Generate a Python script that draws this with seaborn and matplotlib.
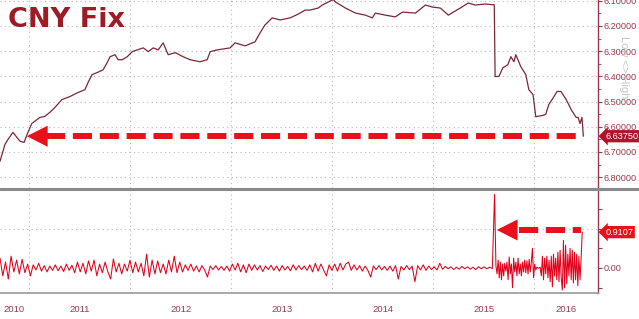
import numpy as np
import pandas as pd
import matplotlib
matplotlib.use("Agg")
import matplotlib.pyplot as plt
import matplotlib.transforms as mtrans
from matplotlib.lines import Line2D
from matplotlib.ticker import FixedLocator, NullFormatter
import seaborn as sns

# ---------------- data ----------------
fix_dates = [
    "2010-09-18", "2010-10-06", "2010-10-17", "2010-11-04", "2010-11-15", "2010-11-30",
    "2010-12-14", "2010-12-28", "2011-01-11", "2011-02-09", "2011-02-27", "2011-03-17",
    "2011-04-04", "2011-04-30", "2011-05-29", "2011-06-27", "2011-07-22", "2011-08-02",
    "2011-08-17", "2011-09-04", "2011-09-26", "2011-10-10", "2011-10-21", "2011-11-08",
    "2011-11-19", "2011-12-04", "2011-12-22", "2012-01-09", "2012-01-27", "2012-02-18",
    "2012-03-07", "2012-03-25", "2012-04-12", "2012-04-30", "2012-05-18", "2012-06-13",
    "2012-07-11", "2012-08-05", "2012-09-10", "2012-10-06", "2012-10-17", "2012-11-11",
    "2012-12-28", "2013-01-15", "2013-02-20", "2013-03-28", "2013-04-15", "2013-05-03",
    "2013-05-29", "2013-06-27", "2013-08-02", "2013-08-31", "2013-09-25", "2013-10-13",
    "2013-11-11", "2013-11-26", "2014-01-05", "2014-01-13", "2014-02-18", "2014-03-26",
    "2014-05-01", "2014-05-26", "2014-06-06", "2014-07-12", "2014-08-17", "2014-09-12",
    "2014-10-29", "2014-12-04", "2014-12-29", "2015-01-27", "2015-02-25", "2015-03-15",
    "2015-04-09", "2015-05-08", "2015-06-02", "2015-07-08", "2015-08-10", "2015-08-13",
    "2015-08-27", "2015-09-10", "2015-09-28", "2015-10-09", "2015-10-20", "2015-10-27",
    "2015-11-14", "2015-12-02", "2015-12-13", "2015-12-28", "2016-01-07", "2016-02-01",
    "2016-02-12", "2016-02-23", "2016-03-13", "2016-03-24", "2016-04-07", "2016-04-26",
    "2016-05-14", "2016-06-01", "2016-06-08", "2016-06-15", "2016-06-22", "2016-06-27",
]
fix_values = [
    6.737, 6.670, 6.650, 6.622, 6.638, 6.658,
    6.662, 6.622, 6.587, 6.563, 6.559, 6.543,
    6.524, 6.492, 6.480, 6.464, 6.453, 6.425,
    6.393, 6.385, 6.374, 6.346, 6.322, 6.314,
    6.334, 6.334, 6.322, 6.302, 6.295, 6.287,
    6.302, 6.287, 6.295, 6.267, 6.314, 6.306,
    6.322, 6.334, 6.342, 6.334, 6.302, 6.295,
    6.287, 6.267, 6.279, 6.263, 6.228, 6.196,
    6.168, 6.176, 6.168, 6.153, 6.137, 6.137,
    6.129, 6.117, 6.095, 6.105, 6.129, 6.149,
    6.157, 6.168, 6.149, 6.157, 6.164, 6.145,
    6.149, 6.117, 6.125, 6.129, 6.157, 6.145,
    6.129, 6.109, 6.117, 6.113, 6.1162, 6.401,
    6.400, 6.366, 6.354, 6.322, 6.342, 6.314,
    6.362, 6.393, 6.453, 6.472, 6.560, 6.555,
    6.551, 6.512, 6.480, 6.460, 6.460, 6.492,
    6.532, 6.563, 6.563, 6.587, 6.563, 6.6375,
]

# daily % change (lower panel)
chg_pre_start = "2010-09-18"   # 10-day steps
chg_pre = [
    0.25, -0.2, 0.15, -0.28, 0.3, -0.1, 0.2, -0.15, 0.22, -0.12,
    0.1, -0.2, 0.08, -0.05, 0.12, -0.08, 0.06, -0.1, 0.05, -0.06,
    0.08, -0.07, 0.05, -0.09, 0.1, -0.06, 0.07, -0.12, 0.15, -0.1,
    0.12, -0.15, 0.18, -0.08, 0.2, -0.2, 0.1, -0.12, 0.15, -0.1,
    -0.28, 0.23, -0.1, 0.12, -0.15, 0.1, -0.08, 0.2, -0.12, 0.15,
    -0.1, 0.12, -0.2, 0.35, -0.23, 0.2, -0.15, 0.18, -0.12, 0.1,
    -0.15, 0.2, -0.1, 0.3, -0.12, 0.15, -0.1, 0.08, -0.06, 0.1,
    -0.08, 0.05, -0.1, 0.06, -0.05, -0.23, 0.05, -0.04, 0.06, -0.05,
    0.04, -0.06, 0.05, -0.08, 0.1, -0.05, 0.12, -0.1, 0.08, -0.12,
    0.1, -0.06, 0.08, -0.05, 0.06, -0.09, 0.05, -0.04, 0.07, -0.06,
    0.05, -0.08, 0.06, -0.05, 0.04, -0.07, 0.08, -0.05, 0.06, -0.04,
    0.05, -0.06, 0.08, -0.1, 0.12, -0.08, 0.1, -0.05, -0.2, 0.08,
    -0.06, 0.1, -0.08, 0.12, -0.05, 0.1, 0.15, -0.06, 0.08, -0.05,
    0.06, -0.08, 0.05, -0.06, -0.23, 0.05, -0.04, 0.06, -0.05, 0.04,
    -0.06, 0.05, -0.08, 0.06, -0.28, 0.04, -0.05, 0.06, -0.04, 0.05,
    -0.35, 0.06, -0.05, 0.08, -0.06, 0.05, -0.04, 0.03, -0.05, 0.12,
    -0.03, 0.04, -0.02, 0.03, -0.04, 0.02, -0.03, 0.04, -0.02, 0.03,
    -0.03, 0.02, -0.04, 0.03, -0.02, 0.03, -0.02, 0.02, -0.01,
]
chg_spike_dates = ["2015-08-11", "2015-08-12", "2015-08-13"]
chg_spike = [1.86, 1.62, 1.11]
chg_post_start = "2015-08-16"  # 4-day steps
chg_post = [
    0.05, -0.15, 0.2, -0.25, 0.15, -0.3, 0.1, -0.2, 0.12, -0.08,
    0.15, -0.3, 0.28, -0.15, 0.1, -0.5, 0.25, -0.1, 0.15, -0.2,
    0.25, -0.15, 0.1, -0.2, 0.15, -0.1, 0.2, -0.12, 0.18, -0.15,
    0.22, -0.1, 0.15, 0.5, -0.25, 0.1, -0.05, 0.02, 0.0, 0.0,
    0.02, -0.2, 0.3, -0.3, 0.25, -0.15, 0.3, -0.25, 0.2, -0.35,
    0.3, -0.48, 0.35, -0.2, 0.25, -0.3, 0.4, -0.35, 0.45, -0.25,
    -0.56, 0.7, -0.5, 0.58, -0.4, 0.35, -0.2, 0.5, -0.3, 0.45,
    -0.38, 0.4, -0.3, 0.35, -0.45, 0.3, -0.3, 0.25, 0.9107,
]

fix_last = 6.6375
chg_last = 0.9107
years = [2010, 2011, 2012, 2013, 2014, 2015, 2016]
top_ticks = [6.1, 6.2, 6.3, 6.4, 6.5, 6.6, 6.7, 6.8]

# ---------------- frames ----------------
df_fix = pd.DataFrame({"date": pd.to_datetime(fix_dates), "fix": fix_values})
d_pre = pd.date_range(chg_pre_start, periods=len(chg_pre), freq="10D")
d_post = pd.date_range(chg_post_start, periods=len(chg_post), freq="4D")
df_chg = pd.DataFrame({
    "date": list(d_pre) + list(pd.to_datetime(chg_spike_dates)) + list(d_post),
    "chg": chg_pre + chg_spike + chg_post,
})

# ---------------- style ----------------
sns.set_theme(style="white")
plt.rcParams["font.family"] = ["Liberation Sans", "DejaVu Sans"]

MAROON = "#9b3a4d"
LINE_TOP = "#7a2838"
RED = "#e8101a"
GRID = "#b8b8b8"

fig = plt.figure(figsize=(6.39, 3.19), dpi=100)
H = 319.0
W = 639.0
ax1 = fig.add_axes([0, 1 - 188 / H, 598 / W, 188 / H])
ax2 = fig.add_axes([0, 1 - 293 / H, 598 / W, 103 / H])

xmin = pd.Timestamp("2010-09-18")
xmax = pd.Timestamp("2016-08-19")
year_starts = [pd.Timestamp(f"{y}-01-01") for y in years[1:]]
quarters = pd.date_range("2010-10-01", "2016-07-01", freq="QS")

# top panel
sns.lineplot(data=df_fix, x="date", y="fix", ax=ax1, color=LINE_TOP, lw=0.9)
ax1.set_xlim(xmin, xmax)
ax1.set_ylim(6.843, 6.097)
ax1.set_xlabel("")
ax1.set_ylabel("")
ax1.yaxis.tick_right()
ax1.set_yticks(top_ticks)
ax1.set_yticklabels([f"{v:.5f}" for v in top_ticks])
ax1.yaxis.set_minor_locator(FixedLocator([v + 0.05 for v in top_ticks[:-1]]))
ax1.tick_params(axis="y", which="major", direction="out", length=3, width=0.8,
                color=MAROON, labelcolor=MAROON, labelsize=6.6, pad=1)
ax1.tick_params(axis="y", which="minor", direction="out", length=2, width=0.6, color=MAROON)
ax1.set_xticks(year_starts)
ax1.set_xticklabels([])
ax1.tick_params(axis="x", length=0)
ax1.grid(True, axis="both", linestyle=(0, (1, 3)), color=GRID, lw=0.8)
for s in ["left", "top", "bottom"]:
    ax1.spines[s].set_visible(False)
ax1.spines["right"].set_color(MAROON)
ax1.spines["right"].set_linewidth(1.0)

# lower panel
sns.lineplot(data=df_chg, x="date", y="chg", ax=ax2, color="#e3001b", lw=0.75)
ax2.set_xlim(xmin, xmax)
ax2.set_ylim(-0.635, 1.98)
ax2.set_xlabel("")
ax2.set_ylabel("")
ax2.yaxis.tick_right()
ax2.set_yticks([-0.5, 0.0, 0.5, 1.0, 1.5])
ax2.set_yticklabels(["", "0.00", "", "", ""])
ax2.tick_params(axis="y", direction="out", length=3, width=0.8, color=MAROON,
                labelcolor=MAROON, labelsize=6.6, pad=1)
ax2.set_xticks(year_starts)
ax2.set_xticklabels([])
ax2.xaxis.set_minor_locator(FixedLocator(matplotlib.dates.date2num(quarters)))
ax2.xaxis.set_minor_formatter(NullFormatter())
ax2.tick_params(axis="x", which="major", direction="out", length=19, width=0.8, color="#a0a0a0")
ax2.tick_params(axis="x", which="minor", direction="out", length=3, width=0.7, color="#a0a0a0")
ax2.grid(False)
ax2.grid(True, axis="x", which="major", linestyle=(0, (1, 3)), color=GRID, lw=0.8)
ax2.axhline(1.0, linestyle=(0, (1, 3)), color=GRID, lw=0.8, zorder=0)
ax2.spines["left"].set_visible(False)
ax2.spines["top"].set_visible(False)
ax2.spines["bottom"].set_color("#9a9a9a")
ax2.spines["bottom"].set_linewidth(1.2)
ax2.spines["right"].set_color(MAROON)
ax2.spines["right"].set_linewidth(1.0)

# year labels centred in visible part of each year
tr = mtrans.blended_transform_factory(ax2.transData, fig.transFigure)
for y in years:
    a = max(pd.Timestamp(f"{y}-01-01"), xmin)
    b = min(pd.Timestamp(f"{y + 1}-01-01"), xmax)
    c = a + (b - a) / 2
    ax2.text(c, 1 - 310 / H, str(y), transform=tr, ha="center", va="center",
             fontsize=6.8, color=MAROON)

# separator
fig.add_artist(Line2D([0, 1], [1 - 189 / H, 1 - 189 / H], transform=fig.transFigure,
                      color="#8a8a8a", lw=2.2))

# last value tags
ax1.text(1.012, fix_last, f"{fix_last:.5f}", transform=ax1.get_yaxis_transform(),
         ha="left", va="center", fontsize=6.6, color="white", zorder=6,
         bbox=dict(boxstyle="larrow,pad=0.18", fc="#b3122c", ec="none"))
ax2.text(1.012, chg_last, f"{chg_last:.4f}", transform=ax2.get_yaxis_transform(),
         ha="left", va="center", fontsize=6.6, color="white", zorder=6,
         bbox=dict(boxstyle="larrow,pad=0.18", fc="#e8101a", ec="none"))

# red dashed arrows
def dashed_arrow(ax, tip, base, tail, yv):
    tip, base, tail = pd.Timestamp(tip), pd.Timestamp(base), pd.Timestamp(tail)
    ax.plot([base, tail], [yv, yv], color=RED, lw=4.3, linestyle=(0, (3.2, 1.3)),
            dash_capstyle="butt", zorder=5)
    ax.annotate("", xy=(tip, yv), xytext=(base, yv),
                arrowprops=dict(arrowstyle="-|>,head_length=0.75,head_width=0.38",
                                mutation_scale=20, color=RED, lw=0,
                                shrinkA=0, shrinkB=0), zorder=5)

dashed_arrow(ax1, "2010-12-24", "2011-03-05", "2016-06-17", fix_last)
dashed_arrow(ax2, "2015-08-19", "2015-11-06", "2016-06-17", 0.965)

# title and side note
fig.text(8 / W, 1 - 27 / H, "CNY Fix", fontsize=19.5, fontweight="bold",
         color="#9c1b24", ha="left", va="baseline", family="DejaVu Sans")
fig.text(624 / W, 1 - 67 / H, "Low <> High", rotation=270, fontsize=8,
         color="#c6c6c6", ha="center", va="center", zorder=0)

fig.savefig("out.png", dpi=100)
